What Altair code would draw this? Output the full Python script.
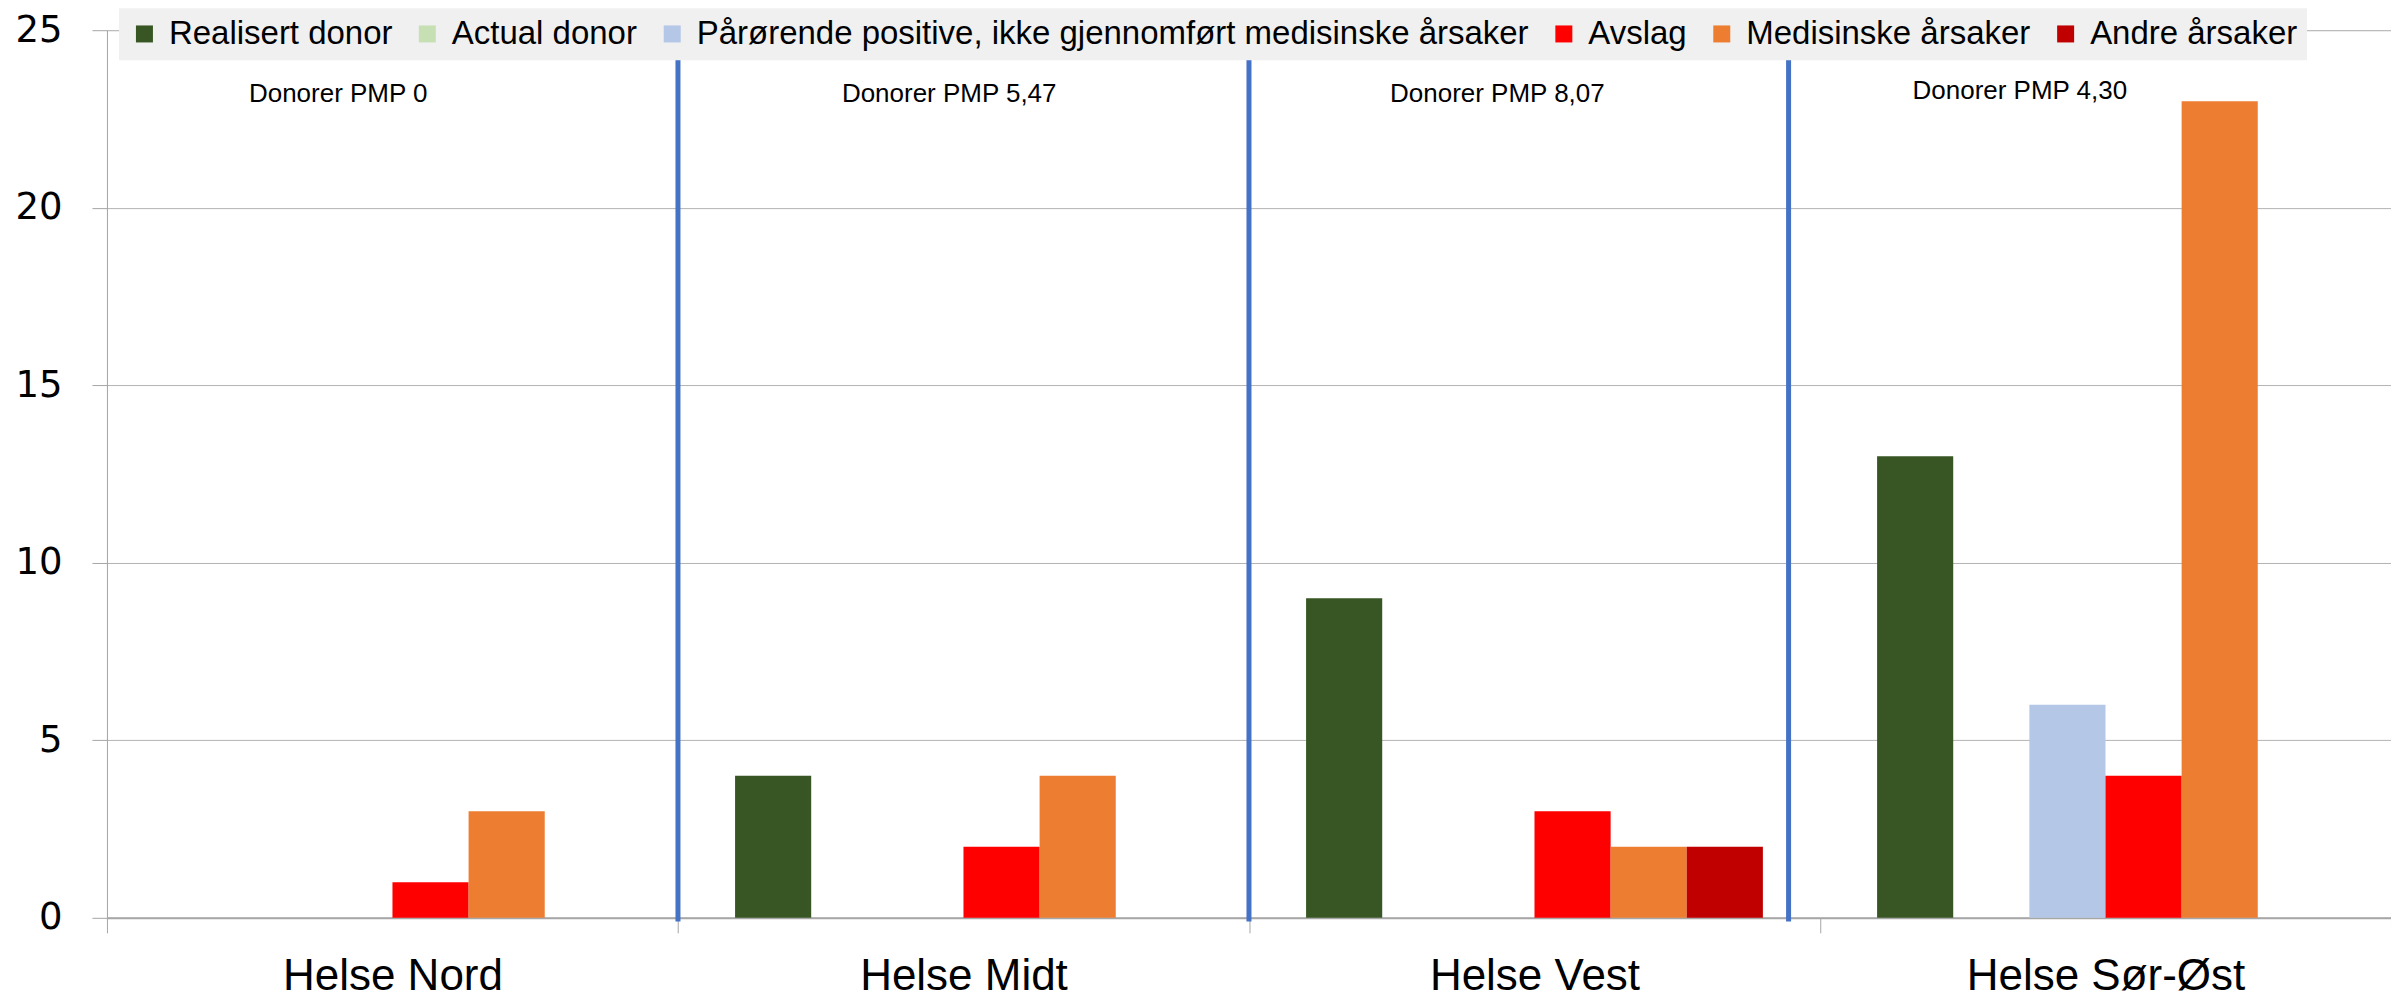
import altair as alt
import pandas as pd

regions = ["Helse Nord", "Helse Midt", "Helse Vest", "Helse Sør-Øst"]
series = [
    "Realisert donor",
    "Actual donor",
    "Pårørende positive, ikke gjennomført medisinske årsaker",
    "Avslag",
    "Medisinske årsaker",
    "Andre årsaker",
]
colors = ["#375623", "#C6E0B4", "#B4C7E7", "#FF0000", "#ED7D31", "#C00000"]

realisert = [0, 4, 9, 13]
actual = [0, 0, 0, 0]
parorende = [0, 0, 0, 6]
avslag = [1, 2, 3, 4]
medisinske = [3, 4, 2, 23]
andre = [0, 0, 2, 0]
values = [realisert, actual, parorende, avslag, medisinske, andre]

pmp_labels = ["Donorer PMP 0", "Donorer PMP 5,47", "Donorer PMP 8,07", "Donorer PMP 4,30"]
pmp_pos = [0.405, 1.475, 2.435, 3.35]
pmp_y = [23.2, 23.2, 23.2, 23.3]
divider_pos = [1.0, 2.0, 2.945]
y_ticks = [0, 5, 10, 15, 20, 25]

rows = []
for s, vals in zip(series, values):
    for r, v in zip(regions, vals):
        if v > 0:
            rows.append({"region": r, "series": s, "value": v})
df = pd.DataFrame(rows)
ann = pd.DataFrame({"pos": pmp_pos, "y": pmp_y, "label": pmp_labels})
div = pd.DataFrame({"pos": divider_pos, "top": [24.25] * 3, "bottom": [-0.1] * 3})

bars = alt.Chart(df).mark_bar().encode(
    x=alt.X("region:N", sort=regions, title=None,
            scale=alt.Scale(domain=regions, paddingInner=0, paddingOuter=0),
            axis=alt.Axis(labelAngle=0, labelFontSize=44, labelFont="Liberation Sans",
                          labelColor="#000000", labelPadding=22, labelLimit=0,
                          tickBand="extent", tickSize=15, tickColor="#A6A6A6",
                          domainColor="#A6A6A6", domainWidth=2, grid=False)),
    xOffset=alt.XOffset("series:N", sort=series,
                        scale=alt.Scale(domain=series, paddingInner=0, paddingOuter=0.75)),
    y=alt.Y("value:Q", title=None,
            scale=alt.Scale(domain=[0, 25], nice=False),
            axis=alt.Axis(values=y_ticks, labelFontSize=37, labelFont="DejaVu Sans",
                          labelColor="#000000", labelPadding=30, tickSize=15,
                          tickColor="#A6A6A6", domainColor="#A6A6A6", gridColor="#B3B3B3",
                          gridWidth=1)),
    color=alt.Color("series:N", sort=series,
                    scale=alt.Scale(domain=series, range=colors),
                    legend=alt.Legend(orient="none", legendX=12, legendY=-22,
                                      direction="horizontal", columns=6, title=None,
                                      fillColor="#F0F0F0", padding=9,
                                      labelFontSize=33, labelFont="Liberation Sans",
                                      labelColor="#000000", labelLimit=0,
                                      symbolType="square", symbolSize=289,
                                      symbolStrokeWidth=0, labelOffset=8,
                                      columnPadding=18)),
)

xq = alt.X("pos:Q", scale=alt.Scale(domain=[0, 4], nice=False, zero=False), axis=None)

rules = alt.Chart(div).mark_rule(color="#4472C4", strokeWidth=5).encode(
    x=xq,
    y=alt.Y("top:Q", scale=alt.Scale(domain=[0, 25], nice=False)),
    y2="bottom:Q",
)

texts = alt.Chart(ann).mark_text(fontSize=26, font="Liberation Sans", color="#000000").encode(
    x=xq,
    y=alt.Y("y:Q", scale=alt.Scale(domain=[0, 25], nice=False)),
    text="label:N",
)

chart = alt.layer(bars, rules, texts).resolve_scale(x="independent").properties(
    width=2285, height=888,
    autosize=alt.AutoSizeParams(type="none"),
    padding={"left": 99, "top": 22, "right": 0, "bottom": 82},
).configure_view(stroke=None).configure(background="#FFFFFF")

chart.save("out.html", embed_options={"renderer": "svg", "actions": False})
